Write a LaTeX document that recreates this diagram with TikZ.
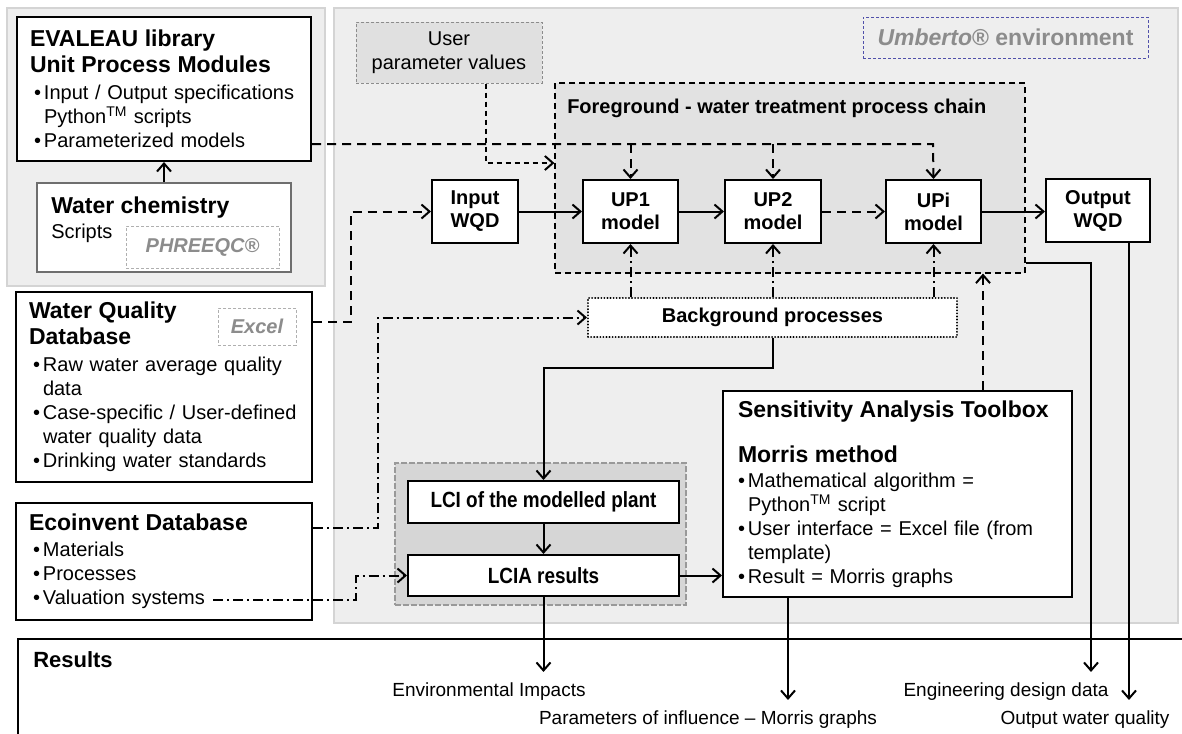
\documentclass[tikz,border=0pt]{standalone}
\usepackage{fontspec}
\setmainfont{Liberation Sans}
\newfontfamily\narrowfont[FakeStretch=0.86]{Liberation Sans}
\usepackage{tikz}
\definecolor{panelgray}{RGB}{238, 238, 238}
\definecolor{panelline}{RGB}{212, 212, 212}
\definecolor{fggray}{RGB}{226, 226, 226}
\definecolor{lcagray}{RGB}{214, 214, 214}
\definecolor{taggray}{RGB}{140, 140, 140}
\definecolor{tagblue}{RGB}{80, 80, 170}
\definecolor{chemline}{RGB}{110, 110, 110}
\usetikzlibrary{arrows.meta, positioning, calc}

\newcommand{\pxu}{0.75pt}
\newcommand{\hd}{\bfseries\fontsize{17.25pt}{19.5pt}\selectfont}
% bullets of the left boxes and of the toolbox
\newcommand{\bul}{\hspace*{3pt}\makebox[7.5pt][l]{\textbullet}}
\newcommand{\cont}{\hspace*{10.5pt}}
\newcommand{\sbul}{\makebox[7.5pt][l]{\textbullet}}
\newcommand{\scont}{\hspace*{7.5pt}}

\begin{document}
\begin{tikzpicture}[
    x=0.75pt, y=-0.75pt,
    every node/.style={font=\fontsize{15pt}{18pt}\selectfont},
    panelbox/.style={draw=panelline, fill=panelgray, line width=1.5pt},
    infobox/.style={draw, line width=1.5pt, fill=white, align=left, inner xsep=13*\pxu, inner ysep=0pt},
    upbox/.style={draw, line width=1.5pt, fill=white, align=center, inner sep=0pt, font=\bfseries\fontsize{15pt}{17.25pt}\selectfont},
    tagbox/.style={draw=taggray!70, line width=0.75pt, dash pattern=on 2.25pt off 1.5pt, inner sep=0pt, text=taggray, font=\bfseries\itshape\fontsize{15pt}{18pt}\selectfont},
    flowline/.style={line width=1.5pt, -{Straight Barb[length=6pt,width=10.5pt]}},
    longdash/.style={dash pattern=on 6.75pt off 4.5pt},
    dashdot/.style={dash pattern=on 7.5pt off 3pt on 1.5pt off 3pt},
    restext/.style={font=\fontsize{14.25pt}{17pt}\selectfont, inner xsep=0pt, inner ysep=7.5pt}
]
    \useasboundingbox (0,0) rectangle (1182,733);

    % Panels
    \draw[panelbox] (7,8) rectangle (325,286);
    \draw[panelbox] (334,8) rectangle (1178,623);

    % Foreground chain
    \node[draw, fill=fggray, line width=0.9pt, dash pattern=on 4.5pt off 3pt, minimum width=470*\pxu, minimum height=190*\pxu, inner sep=0pt] (fg) at (790,178) {};
    \node[anchor=base west, inner sep=0pt, font=\bfseries\fontsize{15pt}{18pt}\selectfont] (fgtitle) at (567,113) {Foreground - water treatment process chain};

    % LCA block
    \node[draw=black!40, fill=lcagray, line width=2pt, dash pattern=on 4.5pt off 1.5pt, minimum width=291*\pxu, minimum height=142*\pxu] (lcagrp) at (540.5,534) {};

    % Results
    \node[draw, fill=white, line width=1.5pt, anchor=north west, minimum width=1300*\pxu, minimum height=200*\pxu] (results) at (17,638) {};
    \node[anchor=base west, inner sep=0pt, font=\bfseries\fontsize{16.5pt}{18pt}\selectfont] (restitle) at (33,667) {Results};

    % Library and databases
    \node[infobox, text width=268*\pxu, minimum height=144*\pxu] (evaleau) at (164,89) {%
        {\hd EVALEAU library}\\[1.5pt]
        {\hd Unit Process Modules}\\[2.25pt]
        \bul Input / Output specifications\\
        \cont Python\textsuperscript{TM} scripts\\
        \bul Parameterized models};
    \node[draw=chemline, line width=2pt, fill=white, minimum width=254*\pxu, minimum height=89*\pxu] (wchem) at (164,227.5) {};
    \node[anchor=base west, inner sep=0pt, font=\hd] (wchemtitle) at (51,213) {Water chemistry};
    \node[anchor=base west, inner sep=0pt] (scripts) at (51,238) {Scripts};
    \node[tagbox, minimum width=153*\pxu, minimum height=42*\pxu] (phreeqc) at (202.5,247) {PHREEQC®};

    \node[infobox, text width=270*\pxu, minimum height=190*\pxu] (wqd) at (164,387) {%
        {\hd Water Quality}\\[1.5pt]
        {\hd Database}\\[2.25pt]
        \bul Raw water average quality\\
        \cont data\\
        \bul Case-specific / User-defined\\
        \cont water quality data\\
        \bul Drinking water standards};
    \node[tagbox, minimum width=78*\pxu, minimum height=37*\pxu] (excel) at (257,326.5) {Excel};

    \node[infobox, text width=270*\pxu, minimum height=117*\pxu] (eco) at (164,561.5) {%
        {\hd Ecoinvent Database}\\[1.5pt]
        \bul Materials\\
        \bul Processes\\
        \bul Valuation systems};

    % Umberto side
    \node[tagbox, draw=tagblue, minimum width=285*\pxu, minimum height=41*\pxu, font=\bfseries\fontsize{17.25pt}{19.5pt}\selectfont] (umberto) at (1005.5,37.5) {\textit{Umberto}® environment};
    \node[draw=black!45, fill=black!12, line width=0.75pt, dash pattern=on 2.25pt off 1.5pt, minimum width=186*\pxu, minimum height=61*\pxu, align=center, inner sep=0pt] (user) at (449,52.5) {User\\parameter values};

    \node[upbox, minimum width=86*\pxu, minimum height=63*\pxu] (input) at (475,211.5) {Input\\WQD};
    \node[upbox, minimum width=95*\pxu, minimum height=63*\pxu] (up1) at (630.5,211.5) {UP1\\model};
    \node[upbox, minimum width=96*\pxu, minimum height=63*\pxu] (up2) at (773,211.5) {UP2\\model};
    \node[upbox, minimum width=95*\pxu, minimum height=63*\pxu] (upi) at (933.5,211.5) {UPi\\model};
    \node[upbox, minimum width=104*\pxu, minimum height=63*\pxu] (output) at (1098,210.5) {Output\\WQD};

    \node[draw, fill=white, line width=1.5pt, dash pattern=on 0.1pt off 2.2pt, line cap=round, minimum width=369*\pxu, minimum height=39*\pxu, inner sep=0pt, font=\bfseries\fontsize{15pt}{18pt}\selectfont] (bg) at (772.5,317.5) {Background processes};

    \node[upbox, minimum width=271*\pxu, minimum height=42*\pxu, font=\narrowfont\bfseries\fontsize{16.5pt}{18pt}\selectfont] (lci) at (543.5,502) {LCI of the modelled plant};
    \node[upbox, minimum width=271*\pxu, minimum height=41*\pxu, font=\narrowfont\bfseries\fontsize{16.5pt}{18pt}\selectfont] (lcia) at (543.5,575.5) {LCIA results};

    \node[infobox, inner xsep=15*\pxu, text width=319*\pxu, minimum height=206*\pxu] (sa) at (897.5,494) {%
        {\hd Sensitivity Analysis Toolbox}\\[15.75pt]
        {\hd Morris method}\\[0.75pt]
        \sbul Mathematical algorithm =\\
        \scont Python\textsuperscript{TM} script\\
        \sbul User interface = Excel file (from\\
        \scont template)\\
        \sbul Result = Morris graphs};

    % Result labels
    \node[restext, anchor=base] (env) at (489,696) {Environmental Impacts};
    \node[restext, anchor=base] (param) at (708,724) {Parameters of influence – Morris graphs};
    \node[restext, anchor=base] (eng) at (1006,696) {Engineering design data};
    \node[restext, anchor=base] (owq) at (1085,724) {Output water quality};

    % Connectors
    \draw[flowline] (wchem) -- (evaleau);
    \coordinate (bus) at (933,144);
    \draw[flowline, longdash] (evaleau.east |- bus) -- (bus) -- (upi.north);
    \draw[flowline, longdash] (up1.north |- bus) -- (up1.north);
    \draw[flowline, longdash] (up2.north |- bus) -- (up2.north);
    \coordinate (usrturn) at (486,163);
    \draw[flowline, dash pattern=on 3.75pt off 3pt] (user.south -| usrturn) -- (usrturn) -- (usrturn -| fg.west);
    \coordinate (wqdturn) at (351,322);
    \draw[flowline, longdash] (wqd.east |- wqdturn) -- (wqdturn) |- (input.west);

    \draw[flowline] (input) -- (up1);
    \draw[flowline] (up1) -- (up2);
    \draw[flowline, longdash] (up2) -- (upi);
    \draw[flowline] (upi.east) -- (upi.east -| output.west);

    \foreach \up in {up1, up2, upi}
        \draw[flowline, dashdot] (bg.north -| \up.south) -- (\up.south);
    \coordinate (ecoturn) at (378,528);
    \draw[flowline, dashdot] (eco.east |- ecoturn) -- (ecoturn) |- (bg.west);
    \coordinate (valstart) at (213,600);
    \coordinate (valturn) at (356,600);
    \draw[flowline, dashdot] (valstart) -- (valturn) |- (lcia.west);

    \draw[flowline] (bg.south) -- ++(0,30) -| (lci.north);
    \draw[flowline] (lci) -- (lcia);
    \draw[flowline] (lcia.east) -- (lcia.east -| sa.west);
    \coordinate (sacol) at (983,300);
    \draw[flowline, longdash] (sa.north -| sacol) -- (sacol |- fg.south);

    \draw[flowline] (lcia.south) -- (lcia.south |- env.north);
    \coordinate (pcol) at (788,600);
    \draw[flowline] (sa.south -| pcol) -- (pcol |- param.north);
    \coordinate (engcol) at (1091,263);
    \draw[flowline] (fg.east |- engcol) -- (engcol) -- (engcol |- eng.north);
    \coordinate (owqcol) at (1129,250);
    \draw[flowline] (output.south -| owqcol) -- (owqcol |- owq.north);

\end{tikzpicture}
\end{document}
